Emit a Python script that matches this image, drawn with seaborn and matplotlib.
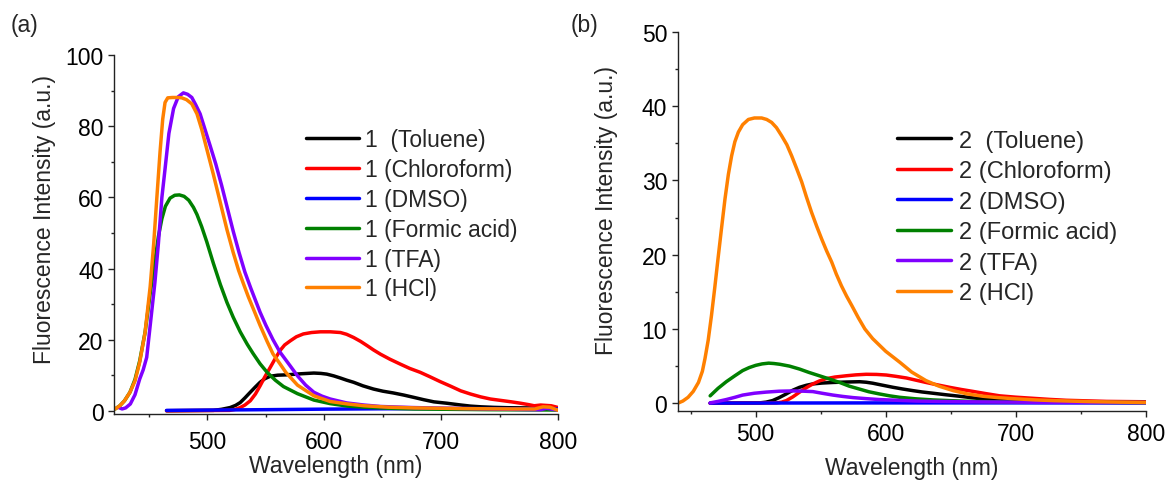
import numpy as np
import pandas as pd
import matplotlib
matplotlib.use("Agg")
import matplotlib.pyplot as plt
from matplotlib.ticker import MultipleLocator
import seaborn as sns

# ---------------- data: panel (a), compound 1 ----------------
tol_a_x = [465, 505, 512, 519.4, 524, 528, 532, 536.6, 541, 545, 549, 553.7, 560, 568, 580, 591, 597, 602, 608, 613.7, 619, 625, 633, 642, 650, 659, 668, 676.6, 685, 693.7, 705, 717, 725, 734, 745, 757, 785, 800]
tol_a_y = [0, 0.1, 0.4, 0.9, 1.5, 2.3, 3.6, 5.2, 6.7, 8, 9, 9.7, 10.0, 10.1, 10.4, 10.6, 10.5, 10.3, 9.8, 9.2, 8.6, 8, 7.0, 6.1, 5.5, 5, 4.4, 3.75, 3.1, 2.5, 2.1, 1.6, 1.3, 1.1, 0.95, 0.85, 0.75, 0.6]

chl_a_x = [465, 519, 524, 528, 532, 536.6, 541, 545, 549, 553.7, 558, 562, 566, 571, 576, 582, 589, 596.6, 605, 613.7, 619, 625, 631, 636.6, 642, 648, 656, 665, 673, 682, 690, 699, 708, 716.6, 725, 733.7, 742, 751, 760, 768, 775, 779.5, 785, 794, 800]
chl_a_y = [0, 0.1, 0.4, 0.9, 1.6, 2.8, 4.7, 7, 9.5, 12.2, 14.7, 16.9, 18.5, 19.7, 20.8, 21.6, 22.0, 22.2, 22.2, 22, 21.5, 20.6, 19.5, 18.3, 17.1, 15.9, 14.5, 13.1, 11.9, 10.8, 9.6, 8.2, 6.9, 5.6, 4.7, 3.9, 3.3, 2.9, 2.5, 2.1, 1.7, 1.4, 1.6, 1.4, 0.9]

dmso_a_x = [465, 550, 600, 650, 700, 750, 800]
dmso_a_y = [0.1, 0.3, 0.45, 0.55, 0.6, 0.6, 0.5]

for_a_x = [421, 425, 429, 433.7, 438, 442, 446.6, 451, 455, 458, 461, 464, 468, 472, 476, 480, 484, 488, 491, 495, 499.4, 505, 511, 516.6, 522, 528, 534, 539, 545, 551, 558, 565, 577, 591, 605, 620, 634, 655, 677, 740, 800]
for_a_y = [0.5, 1.4, 2.8, 5.2, 8.8, 14, 22, 33, 42, 49, 54, 57.5, 59.8, 60.6, 60.7, 60.3, 59.2, 57.2, 55.2, 51.8, 47.5, 41.5, 35.5, 30.5, 26.3, 22.2, 18.7, 16.1, 13.2, 10.8, 8.6, 6.8, 4.8, 3.0, 2.0, 1.3, 1.0, 0.7, 0.5, 0.3, 0.2]

tfa_a_x = [424, 427, 430, 434, 438, 442, 445, 448, 451, 455, 458, 461, 463.7, 467, 471, 475, 479.4, 483, 486.6, 490, 493.7, 498, 502.3, 507, 512, 517, 522, 527, 532, 537, 545, 550, 556, 562, 571, 577, 584, 591, 598, 605, 619, 634, 648, 675, 705, 760, 785, 790, 795, 800]
tfa_a_y = [0.9, 0.5, 0.8, 1.9, 4.5, 8.9, 11.5, 15, 24, 36, 47, 60, 68, 78, 85, 88.3, 89.4, 89, 88.1, 86, 83.5, 79, 74.5, 69.5, 63.5, 57, 50.5, 44.5, 39, 34.5, 27.7, 24, 20, 16.5, 12.5, 9.8, 7.2, 5.2, 4.1, 3.3, 2.2, 1.6, 1.2, 0.9, 0.7, 0.4, 0.3, 0.7, 0.4, 0.2]

hcl_a_x = [421, 425, 429, 433.7, 438, 442, 446.6, 451, 454, 456.6, 459.4, 461.7, 463.7, 466, 470, 475, 478, 482, 486.6, 491, 495, 499.4, 505, 511, 516.6, 522, 526.6, 531, 535, 539.4, 545, 551, 556, 562, 567, 577, 591, 605, 620, 634, 655, 677, 720, 760, 780, 787, 793, 800]
hcl_a_y = [0.5, 1.4, 2.8, 5.2, 8.4, 13.6, 22, 35, 47, 59.5, 72.7, 82, 86.7, 88, 88.1, 88.1, 88, 87.5, 86.3, 83.5, 79.2, 73.6, 66.5, 58.5, 51, 44.5, 39.5, 35.5, 32, 28.5, 24, 19.5, 16, 13.2, 10.8, 7.2, 4.2, 2.6, 1.9, 1.4, 1.0, 0.8, 0.6, 0.5, 0.5, 1.1, 1.0, 0.1]

# ---------------- data: panel (b), compound 2 ----------------
tol_b_x = [465, 503, 508, 513, 518, 523.6, 528.5, 533.8, 539, 544, 551, 559.5, 570, 580, 585, 590, 597, 605.6, 613, 621, 628, 636.4, 646, 657, 666, 675, 688, 700.5, 720, 740, 800]
tol_b_y = [0, 0.05, 0.15, 0.36, 0.75, 1.26, 1.75, 2.15, 2.42, 2.6, 2.72, 2.8, 2.86, 2.9, 2.83, 2.7, 2.45, 2.15, 1.92, 1.7, 1.52, 1.35, 1.15, 0.94, 0.75, 0.58, 0.42, 0.3, 0.2, 0.15, 0.1]

chl_b_x = [465, 516, 520, 523.6, 528.5, 533.8, 539, 544, 549, 554, 561, 569.7, 577, 585, 593, 600.5, 608, 616, 623, 631, 640, 649, 658, 667, 677, 687.7, 700, 713, 726, 739, 770, 800]
chl_b_y = [0, 0.05, 0.15, 0.36, 0.85, 1.5, 2.1, 2.6, 3.0, 3.3, 3.53, 3.7, 3.82, 3.9, 3.88, 3.8, 3.62, 3.4, 3.12, 2.8, 2.47, 2.15, 1.86, 1.6, 1.3, 1.0, 0.82, 0.67, 0.52, 0.4, 0.25, 0.2]

dmso_b_x = [465, 600, 800]
dmso_b_y = [0.02, 0.05, 0.05]

for_b_x = [465, 471, 477.4, 484, 490, 495, 500, 505, 510, 514, 518.5, 526, 533.8, 541, 549, 557, 564.6, 572, 580, 587, 595, 603, 610.8, 623, 636.4, 650, 662, 700, 800]
for_b_y = [1.0, 2.0, 2.9, 3.7, 4.4, 4.8, 5.1, 5.3, 5.4, 5.35, 5.25, 5.0, 4.6, 4.15, 3.7, 3.25, 2.8, 2.3, 1.9, 1.55, 1.26, 1.0, 0.8, 0.6, 0.45, 0.35, 0.27, 0.15, 0.1]

tfa_b_x = [465, 471, 477.4, 484, 490, 499, 508, 518, 528.7, 536, 544, 551, 559.5, 567, 575, 585, 595, 609, 623.6, 640, 662, 720, 800]
tfa_b_y = [0.05, 0.25, 0.5, 0.8, 1.1, 1.35, 1.5, 1.62, 1.66, 1.63, 1.57, 1.35, 1.1, 0.92, 0.76, 0.62, 0.5, 0.4, 0.3, 0.25, 0.2, 0.12, 0.1]

hcl_b_x = [440, 444, 448, 452, 456, 459, 461, 463.5, 466, 468.5, 471, 473.7, 476.4, 479, 481.5, 484, 486.7, 490, 494.4, 499, 504.6, 508.5, 512.3, 516, 520, 524, 527.7, 531.5, 535.4, 539, 543, 547, 550.8, 554.6, 558.5, 562, 566, 570, 573.8, 579, 584, 590, 600, 611, 620, 631, 641, 652, 663, 675, 687, 700, 715, 730, 757, 780, 800]
hcl_b_y = [0, 0.3, 0.8, 1.6, 2.8, 4.3, 6, 8.5, 11.8, 15.5, 19.4, 23.5, 27.5, 30.8, 33.3, 35.2, 36.5, 37.5, 38.2, 38.4, 38.4, 38.2, 37.8, 37.1, 36, 34.8, 33.3, 31.6, 29.8, 27.8, 25.7, 23.8, 22.1, 20.5, 19, 17.4, 15.8, 14.4, 13.2, 11.5, 10, 8.7, 7, 5.5, 4.2, 3.05, 2.3, 1.7, 1.25, 0.94, 0.75, 0.6, 0.45, 0.35, 0.22, 0.15, 0.1]

labels_a = ["1  (Toluene)", "1 (Chloroform)", "1 (DMSO)", "1 (Formic acid)", "1 (TFA)", "1 (HCl)"]
labels_b = ["2  (Toluene)", "2 (Chloroform)", "2 (DMSO)", "2 (Formic acid)", "2 (TFA)", "2 (HCl)"]
colors = ["#000000", "#FF0000", "#0000FF", "#008000", "#8000FF", "#FF8000"]

series_a = [(tol_a_x, tol_a_y), (chl_a_x, chl_a_y), (dmso_a_x, dmso_a_y),
            (for_a_x, for_a_y), (tfa_a_x, tfa_a_y), (hcl_a_x, hcl_a_y)]
series_b = [(tol_b_x, tol_b_y), (chl_b_x, chl_b_y), (dmso_b_x, dmso_b_y),
            (for_b_x, for_b_y), (tfa_b_x, tfa_b_y), (hcl_b_x, hcl_b_y)]


def long_df(series, labels):
    frames = []
    for (x, y), lab in zip(series, labels):
        frames.append(pd.DataFrame({"Wavelength": x, "Intensity": y, "Sample": lab}))
    return pd.concat(frames, ignore_index=True)


sns.set_theme(style="ticks")
plt.rcParams["font.family"] = ["Liberation Sans", "DejaVu Sans"]
plt.rcParams["axes.edgecolor"] = "#222222"
plt.rcParams["axes.linewidth"] = 1.0
plt.rcParams["lines.solid_joinstyle"] = "round"

fig = plt.figure(figsize=(11.7, 4.81), dpi=100)
ax_a = fig.add_axes([0.0974, 0.1366, 0.3797, 0.7466])
ax_b = fig.add_axes([0.5792, 0.1441, 0.4000, 0.7877])

FS = 16.5


def draw(ax, series, labels, ylim, ymaj, xlim, leg_anchor, leg_fs, spacing, xpad, xlab_y, ylab_x, ylab_y):
    df = long_df(series, labels)
    sns.lineplot(data=df, x="Wavelength", y="Intensity", hue="Sample",
                 hue_order=labels, palette=colors, estimator=None,
                 linewidth=2.5, ax=ax, legend=True)
    handles, labs = ax.get_legend_handles_labels()
    ax.legend(handles, labs, loc="upper left", bbox_to_anchor=leg_anchor,
              frameon=False, fontsize=leg_fs, handlelength=2.3,
              handletextpad=0.3, labelspacing=spacing, borderpad=0,
              borderaxespad=0)
    ax.set_xlim(*xlim)
    ax.set_ylim(*ylim)
    ax.xaxis.set_major_locator(MultipleLocator(100))
    ax.xaxis.set_minor_locator(MultipleLocator(50))
    ax.yaxis.set_major_locator(MultipleLocator(ymaj))
    ax.yaxis.set_minor_locator(MultipleLocator(ymaj / 2))
    ax.tick_params(which="major", direction="out", length=4, width=1.0,
                   labelsize=FS, colors="#222222", labelcolor="black")
    ax.tick_params(which="minor", direction="out", length=2.5, width=1.0, colors="#222222")
    ax.tick_params(axis="x", which="major", pad=xpad)
    sns.despine(ax=ax)
    ax.set_xlabel("Wavelength (nm)", fontsize=FS)
    ax.set_ylabel("Fluorescence Intensity (a.u.)", fontsize=FS)
    ax.xaxis.set_label_coords(0.5, xlab_y)
    ax.yaxis.set_label_coords(ylab_x, ylab_y)


draw(ax_a, series_a, labels_a, (-1, 100), 20, (420, 800), (0.432, 0.797), 16.5, 0.30, 7, -0.11, -0.13, 0.544)
draw(ax_b, series_b, labels_b, (-1, 50), 10, (440, 800), (0.469, 0.742), 17, 0.36, 4.5, -0.12, -0.128, 0.532)

fig.text(0.009, 0.948, "(a)", fontsize=FS, va="center", ha="left")
fig.text(0.488, 0.948, "(b)", fontsize=FS, va="center", ha="left")

fig.savefig("out.png", dpi=100)
